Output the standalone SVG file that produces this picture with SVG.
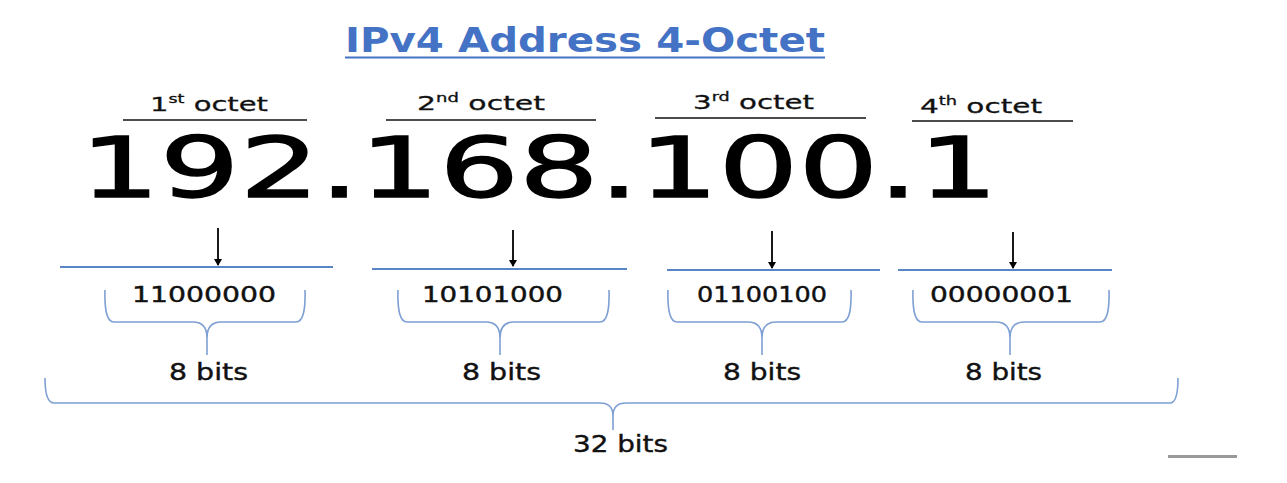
<svg xmlns="http://www.w3.org/2000/svg" width="1287" height="483" viewBox="0 0 1287 483">
<style>
text{font-family:"DejaVu Sans","Noto Sans",sans-serif;fill:#111}
.title{font-weight:bold;font-size:33px;fill:#4472c4}
.lab{font-size:20px;stroke:#111;stroke-width:0.3}
.sup{font-size:12px}
.big{font-size:84px;fill:#000;stroke:#000;stroke-width:1.4}
.bin{font-size:21px;stroke:#111;stroke-width:0.4}
.bits{font-size:23px;stroke:#111;stroke-width:0.4}
.over{stroke:#111;stroke-width:1.5}
.blue{stroke:#5a85c4;stroke-width:1.8}
.brace{fill:none;stroke:#7d9fd3;stroke-width:1.6}
.arrow{stroke:#000;stroke-width:1.8;marker-end:url(#ah)}
</style>
<defs>
<marker id="ah" markerWidth="8" markerHeight="8" refX="6" refY="4" orient="auto" markerUnits="userSpaceOnUse">
<path d="M0,0 L7,4 L0,8 z" fill="#000"/>
</marker>
</defs>
<rect width="1287" height="483" fill="#fff"/>
<g id="title">
<text class="title" x="345" y="52" textLength="480" lengthAdjust="spacingAndGlyphs">IPv4 Address 4-Octet</text>
<line x1="345" y1="57.5" x2="825" y2="57.5" stroke="#4472c4" stroke-width="2"/>
</g>
<g id="octet1">
<text class="lab" x="150" y="111" textLength="118" lengthAdjust="spacingAndGlyphs">1<tspan class="sup" dy="-8">st</tspan><tspan dy="8"> octet</tspan></text>
<line class="over" x1="123" y1="120" x2="307" y2="120"/>
</g>
<g id="octet2">
<text class="lab" x="417" y="110" textLength="128" lengthAdjust="spacingAndGlyphs">2<tspan class="sup" dy="-8">nd</tspan><tspan dy="8"> octet</tspan></text>
<line class="over" x1="386" y1="120" x2="596" y2="120"/>
</g>
<g id="octet3">
<text class="lab" x="693" y="109" textLength="121" lengthAdjust="spacingAndGlyphs">3<tspan class="sup" dy="-8">rd</tspan><tspan dy="8"> octet</tspan></text>
<line class="over" x1="655" y1="118" x2="866" y2="118"/>
</g>
<g id="octet4">
<text class="lab" x="920" y="113" textLength="122" lengthAdjust="spacingAndGlyphs">4<tspan class="sup" dy="-8">th</tspan><tspan dy="8"> octet</tspan></text>
<line class="over" x1="912" y1="121" x2="1073" y2="121"/>
</g>
<g id="address">
<text class="big" x="80" y="197" textLength="918" lengthAdjust="spacingAndGlyphs">192.168.100.1</text>
</g>
<g id="binary1">
<line class="blue" x1="60" y1="267" x2="333" y2="267"/>
<text class="bin" x="132" y="302" textLength="144" lengthAdjust="spacingAndGlyphs">11000000</text>
<path class="brace" d="M105,290 Q104,322 114,322 H193 Q207,322 207,338 V355 M207,338 Q207,322 221,322 H296 Q306,322 305,290"/>
<text class="bits" x="169" y="380" textLength="79" lengthAdjust="spacingAndGlyphs">8 bits</text>
</g>
<g id="binary2">
<line class="blue" x1="372" y1="269" x2="627" y2="269"/>
<text class="bin" x="422" y="302" textLength="141" lengthAdjust="spacingAndGlyphs">10101000</text>
<path class="brace" d="M398,290 Q397,322 407,322 H486 Q500,322 500,338 V355 M500,338 Q500,322 514,322 H600 Q610,322 609,290"/>
<text class="bits" x="462" y="380" textLength="79" lengthAdjust="spacingAndGlyphs">8 bits</text>
</g>
<g id="binary3">
<line class="blue" x1="667" y1="270" x2="880" y2="270"/>
<text class="bin" x="697" y="302" textLength="130" lengthAdjust="spacingAndGlyphs">01100100</text>
<path class="brace" d="M668,290 Q667,322 677,322 H748 Q762,322 762,338 V355 M762,338 Q762,322 776,322 H842 Q852,322 851,290"/>
<text class="bits" x="723" y="380" textLength="78" lengthAdjust="spacingAndGlyphs">8 bits</text>
</g>
<g id="binary4">
<line class="blue" x1="898" y1="270" x2="1112" y2="270"/>
<text class="bin" x="930" y="302" textLength="143" lengthAdjust="spacingAndGlyphs">00000001</text>
<path class="brace" d="M913,290 Q912,322 922,322 H996 Q1010,322 1010,338 V355 M1010,338 Q1010,322 1024,322 H1100 Q1110,322 1109,290"/>
<text class="bits" x="965" y="380" textLength="77" lengthAdjust="spacingAndGlyphs">8 bits</text>
</g>
<g id="total">
<path class="brace" d="M45,378 Q45,403 54,403 H600 Q613,403 613,416 V430 M613,416 Q613,403 626,403 H1170 Q1178,403 1178,378"/>
<text class="bits" x="573" y="452" textLength="95" lengthAdjust="spacingAndGlyphs">32 bits</text>
</g>
<g id="connectors">
<line class="arrow" x1="218" y1="228" x2="218" y2="265"/>
<line class="arrow" x1="513" y1="230" x2="513" y2="266"/>
<line class="arrow" x1="772" y1="231" x2="772" y2="268"/>
<line class="arrow" x1="1013" y1="232" x2="1013" y2="268"/>
</g>
<line x1="1168" y1="456.5" x2="1237" y2="456.5" stroke="#999" stroke-width="3"/>
</svg>
